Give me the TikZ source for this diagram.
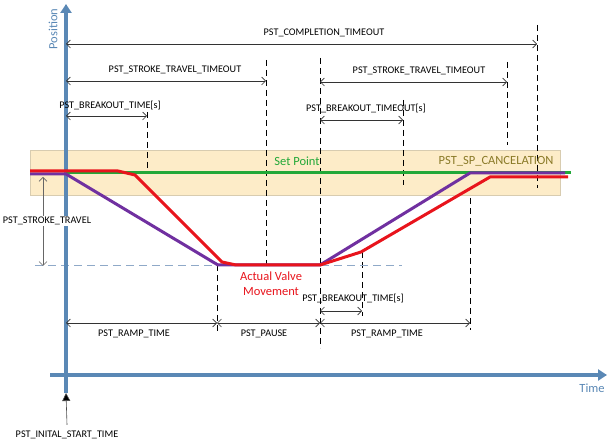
\documentclass[tikz,border=0pt]{standalone}
\usepackage{fontspec}
\setmainfont{Carlito}
\usetikzlibrary{arrows.meta}
\definecolor{axisblue}{HTML}{5A88B5}
\definecolor{bandfill}{HTML}{FDECC8}
\definecolor{bandedge}{HTML}{D8CCB0}
\definecolor{sgreen}{HTML}{22A838}
\definecolor{sred}{HTML}{E8141C}
\definecolor{spurple}{HTML}{7030A0}
\definecolor{olive}{HTML}{8A7A28}
\definecolor{dashblue}{HTML}{8FA9C8}
\tikzset{
  lbl/.style={font=\fontsize{10.2}{11}\selectfont, inner sep=0pt, text=black},
  big/.style={font=\fontsize{12.5}{15}\selectfont, inner sep=0pt},
  dimarrow/.style={draw=black!80, line width=0.6pt, {Straight Barb[length=4pt,width=8pt]}-{Straight Barb[length=4pt,width=8pt]}},
  guide/.style={draw=black, line width=0.9pt, dash pattern=on 6pt off 4pt},
  axis/.style={draw=axisblue, line width=4.5pt, -{Triangle[length=9pt,width=11pt]}},
  curve/.style={line width=3pt, line join=round}
}
\begin{document}
\begin{tikzpicture}[x=1pt,y=-1pt]
\useasboundingbox (0,0) rectangle (608,443);
% band
\node[draw=bandedge, fill=bandfill, line width=0.5pt, minimum width=530pt, minimum height=45pt, anchor=north west, inner sep=0pt] (band) at (30,150) {};
% guides
\coordinate (g1t) at (147,112); \coordinate (g1b) at (147,168);
\coordinate (g2t) at (266,60);  \coordinate (g2b) at (266,270);
\coordinate (g3t) at (217,265); \coordinate (g3b) at (217,332);
\coordinate (g4t) at (320,58);  \coordinate (g4b) at (320,348);
\coordinate (g5t) at (362,252); \coordinate (g5b) at (362,316);
\coordinate (g6t) at (403,100); \coordinate (g6b) at (403,185);
\coordinate (g7t) at (507,62);  \coordinate (g7b) at (507,145);
\coordinate (g8t) at (537,25);  \coordinate (g8b) at (537,188);
\coordinate (g9t) at (470,198); \coordinate (g9b) at (470,330);
\foreach \i in {1,...,9} {\draw[guide] (g\i t) -- (g\i b);}
% dashed stroke level
\coordinate (lvA) at (35,265); \coordinate (lvB) at (402,265);
\draw[draw=dashblue, line width=0.9pt, dash pattern=on 8pt off 5pt] (lvA) -- (lvB);
% axes
\coordinate (yb) at (66,393); \coordinate (yt) at (66,4);
\coordinate (xl) at (50,375); \coordinate (xr) at (607,375);
\draw[axis] (yb) -- (yt);
\draw[axis] (xl) -- (xr);
\node[rotate=90, text=axisblue, big] (pos) at (53,29) {Position};
\node[text=axisblue, big] (time) at (592,388) {Time};
% curves
\draw[curve, draw=sgreen] (66,173) coordinate (gA) -- (571,173) coordinate (gB);
\draw[curve, draw=spurple] (30,174) -- (66,174) -- (218,265) -- (320,265) -- (470,173) -- (565,173);
\draw[curve, draw=sred] (30,171) -- (118,171) -- (135,175) -- (222,262) -- (236,265) -- (320,265) -- (361,252) -- (490,177) -- (568,177);
% labels in band
\node[text=sgreen, big] (sp) at (297,161) {Set Point};
\node[text=olive, big] (spc) at (496,161) {PST\_SP\_CANCELATION};
\node[text=sred, big, align=center, font=\fontsize{12.5}{15}\selectfont] (avm) at (271,284) {Actual Valve\\Movement};
% dimension arrows
\coordinate (c1) at (66,44);  \coordinate (c2) at (537,44);
\draw[dimarrow] (c1) -- (c2);
\node[lbl] (lc) at (324,33) {PST\_COMPLETION\_TIMEOUT};
\coordinate (s1) at (66,81);  \coordinate (s2) at (266,81);
\draw[dimarrow] (s1) -- (s2);
\node[lbl] (ls1) at (175,70) {PST\_STROKE\_TRAVEL\_TIMEOUT};
\coordinate (s3) at (320,82); \coordinate (s4) at (507,82);
\draw[dimarrow] (s3) -- (s4);
\node[lbl] (ls2) at (419,71) {PST\_STROKE\_TRAVEL\_TIMEOUT};
\coordinate (b1) at (66,116); \coordinate (b2) at (147,116);
\draw[dimarrow] (b1) -- (b2);
\node[lbl] (lb1) at (110,106) {PST\_BREAKOUT\_TIME[s]};
\coordinate (b3) at (320,120); \coordinate (b4) at (403,120);
\draw[dimarrow] (b3) -- (b4);
\node[lbl] (lb2) at (366,109) {PST\_BREAKOUT\_TIMEOUT[s]};
\coordinate (st1) at (43,177); \coordinate (st2) at (43,266);
\draw[dimarrow, draw=black!60] (st1) -- (st2);
\node[lbl, fill=white, inner sep=1pt] (lst) at (47,221) {PST\_STROKE\_TRAVEL};
\coordinate (b5) at (320,311); \coordinate (b6) at (362,311);
\draw[dimarrow] (b5) -- (b6);
\node[lbl] (lb3) at (353,299) {PST\_BREAKOUT\_TIME[s]};
\coordinate (r1) at (66,323); \coordinate (r2) at (217,323);
\coordinate (r3) at (320,323); \coordinate (r4) at (470,323);
\draw[dimarrow] (r1) -- (r2);
\draw[dimarrow] (r2) -- (r3);
\draw[dimarrow] (r3) -- (r4);
\node[lbl] (lr1) at (134,334) {PST\_RAMP\_TIME};
\node[lbl] (lp) at (264,334) {PST\_PAUSE};
\node[lbl] (lr2) at (387,334) {PST\_RAMP\_TIME};
% initial start
\node[lbl] (lis) at (67,435) {PST\_INITAL\_START\_TIME};
\coordinate (isT) at (66,393);
\draw[draw=black!70, line width=0.6pt, -{Triangle[length=8pt,width=8pt,fill=black]}] (lis.north) ++(0,-6) -- (isT);
\end{tikzpicture}
\end{document}
